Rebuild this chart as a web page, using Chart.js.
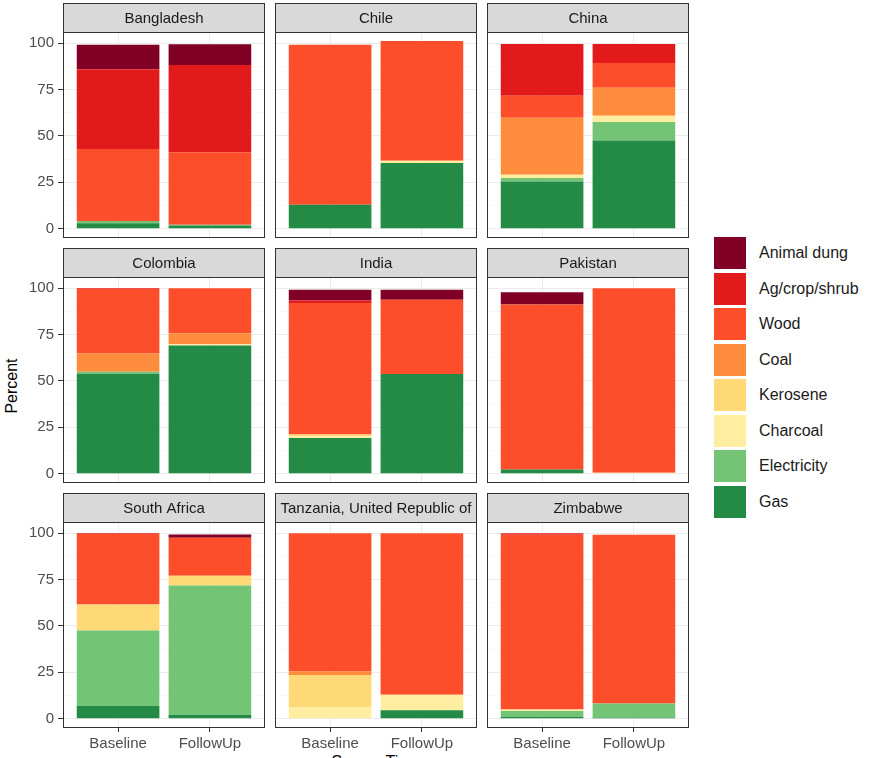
<!DOCTYPE html>
<html>
<head>
<meta charset="utf-8">
<script src="https://cdn.jsdelivr.net/npm/chart.js@4"></script>
<style>
  body { margin: 0; background: #fff; font-family: "Liberation Sans", Arial, sans-serif; }
  #wrap { position: relative; width: 874px; height: 758px; overflow: hidden; }
  .panel { position: absolute; }
  .legend-item { position: absolute; left: 714px; height: 32px; display: flex; align-items: center; }
  .legend-key { width: 32px; height: 32px; margin-right: 13px; }
  .legend-item span { font-size: 16px; color: #1a1a1a; }
  #ytitle { position: absolute; left: 12px; top: 386px; transform: translate(-50%, -50%) rotate(-90deg); font-size: 16px; color: #000; white-space: nowrap; }
  #xtitle { position: absolute; left: 376px; top: 753px; transform: translateX(-50%); font-size: 16px; color: #000; white-space: nowrap; }
</style>
</head>
<body>
<div id="wrap">
  <div id="ytitle">Percent</div>
  <div id="xtitle">Survey Time</div>
</div>
<script>
/* ── Datos: un par [Baseline, FollowUp] por país ── */
const countries  = ['Bangladesh', 'Chile', 'China', 'Colombia', 'India', 'Pakistan',
                    'South Africa', 'Tanzania, United Republic of', 'Zimbabwe'];
const timepoints = ['Baseline', 'FollowUp'];
const yTicks     = [0, 25, 50, 75, 100];

// orden de apilado: de abajo hacia arriba
const fuels      = ['Gas', 'Electricity', 'Charcoal', 'Kerosene', 'Coal', 'Wood', 'Ag/crop/shrub', 'Animal dung'];
const fuelColors = ['#238b45', '#74c476', '#ffeda0', '#fed976', '#fd8d3c', '#fc4e2a', '#e31a1c', '#800026'];

const gas         = [[2.9, 1.8], [12.9, 35.4], [25.5, 47.5], [53.9, 69.1], [19.3, 53.7], [2.3, 0], [6.8, 2.1], [0, 4.6], [1.1, 0.7]];
const electricity = [[1.2, 0.3], [0, 0], [1.8, 10], [1.1, 0], [0, 0], [0, 0], [40.7, 69.7], [0, 0], [3, 7.5]];
const charcoal    = [[0, 0], [0, 1.2], [1.8, 3.4], [0, 0.7], [0.8, 0], [0, 0.5], [0, 0], [6.1, 8.3], [0.9, 0]];
const kerosene    = [[0, 0], [0, 0], [0, 0], [0, 0], [1.0, 0], [0, 0], [14.1, 5.2], [17.5, 0], [0, 0]];
const coal        = [[0, 0], [0, 0], [30.7, 15], [9.8, 5.9], [0, 0], [0, 0], [0, 0], [1.9, 0], [0, 0]];
const wood        = [[38.9, 39.1], [86.2, 64.6], [11.8, 13.4], [34.8, 24.3], [70.9, 40], [88.9, 99.5], [38, 20.5], [74.5, 87.1], [94.1, 90.9]];
const agCrop      = [[42.9, 47], [0, 0], [28, 10.3], [0.4, 0], [1.4, 0], [0, 0], [0.4, 0], [0, 0], [0.9, 0]];
const animalDung  = [[13.2, 11.2], [0, 0], [0, 0], [0, 0], [5.7, 5.4], [6.6, 0], [0, 1.8], [0, 0], [0, 0]];

const fuelValues = [gas, electricity, charcoal, kerosene, coal, wood, agCrop, animalDung];

/* ── Geometría de facetas ── */
const colLeft  = [63, 275, 487];
const stripTop = [3, 248, 493];
const PANEL_W = 202, PANEL_H = 206, STRIP_H = 29;
const FONT = '"Liberation Sans", Arial, sans-serif';

Chart.defaults.font.family = FONT;

const yGrid = [];
yTicks.forEach((v, i) => {
  yGrid.push(v);
  if (i < yTicks.length - 1) yGrid.push((v + yTicks[i + 1]) / 2);
});
const isMajor = c => c.tick && yTicks.includes(c.tick.value);

/* ── Plugin: borde del panel y tira gris con el título ── */
const stripPlugin = {
  id: 'strip',
  afterDraw(chart, args, opts) {
    const { ctx, chartArea: a } = chart;
    const w = a.right - a.left;
    const y0 = a.top - STRIP_H;
    ctx.save();
    ctx.strokeStyle = '#333';
    ctx.lineWidth = 1;
    ctx.strokeRect(a.left + 0.5, a.top + 0.5, w - 1, a.bottom - a.top - 1);
    ctx.fillStyle = '#d9d9d9';
    ctx.fillRect(a.left, y0, w, STRIP_H);
    ctx.strokeRect(a.left + 0.5, y0 + 0.5, w - 1, STRIP_H);
    ctx.beginPath();
    ctx.rect(a.left + 1, y0, w - 2, STRIP_H);
    ctx.clip();
    ctx.fillStyle = '#1a1a1a';
    ctx.font = '15px ' + FONT;
    ctx.textAlign = 'center';
    ctx.textBaseline = 'middle';
    ctx.fillText(opts.text, a.left + w / 2, y0 + STRIP_H / 2 + 1);
    ctx.restore();
  }
};

/* ── Una gráfica por país ── */
const wrap = document.getElementById('wrap');

countries.forEach((name, ci) => {
  const row = Math.floor(ci / 3), col = ci % 3;
  const axisW = col === 0 ? 63 : 0;
  const bottomH = row === 2 ? 30 : 0;
  const padBottom = row === 2 ? 0 : 4;

  const div = document.createElement('div');
  div.className = 'panel';
  div.style.left = (colLeft[col] - axisW) + 'px';
  div.style.top = stripTop[row] + 'px';
  const canvas = document.createElement('canvas');
  canvas.width = axisW + PANEL_W + 1;
  canvas.height = STRIP_H + PANEL_H + bottomH + padBottom;
  div.appendChild(canvas);
  wrap.appendChild(div);

  const datasets = fuels.map((f, fi) => ({
    label: f,
    data: timepoints.map((t, ti) => ({ x: ti + 1, y: fuelValues[fi][ci][ti] || null })),
    backgroundColor: fuelColors[fi],
    borderWidth: 0,
    barPercentage: 0.9,
    categoryPercentage: 1.0,
  }));

  new Chart(canvas.getContext('2d'), {
    type: 'bar',
    data: { datasets },
    options: {
      responsive: false,
      animation: false,
      layout: {
        autoPadding: false,
        padding: { top: STRIP_H, right: 1, bottom: padBottom, left: 0 },
      },
      plugins: {
        legend: { display: false },
        tooltip: { enabled: false },
        strip: { text: name },
      },
      scales: {
        x: {
          type: 'linear', stacked: true, offset: false, min: 0.4, max: 2.6,
          afterBuildTicks: s => { s.ticks = timepoints.map((_, i) => ({ value: i + 1 })); },
          afterFit: s => { s.height = bottomH; s.paddingLeft = 0; s.paddingRight = 0; },
          border: { display: false },
          grid: { offset: false, color: '#ebebeb', drawTicks: row === 2, tickLength: 4, tickColor: '#333', tickWidth: 1 },
          ticks: {
            display: row === 2, autoSkip: false, maxRotation: 0, padding: 3,
            color: '#4d4d4d', font: { size: 15 },
            callback: v => timepoints[v - 1],
          },
        },
        y: {
          stacked: true, min: -5, max: 106,
          afterBuildTicks: s => { s.ticks = yGrid.map(v => ({ value: v })); },
          afterFit: s => { s.width = axisW; s.paddingTop = 0; s.paddingBottom = 0; },
          border: { display: false },
          grid: {
            color: c => isMajor(c) ? '#ebebeb' : '#f5f5f5',
            lineWidth: c => isMajor(c) ? 1 : 0.6,
            tickColor: c => isMajor(c) ? '#333' : 'rgba(0,0,0,0)',
            tickWidth: 1,
            tickLength: 5,
            drawTicks: col === 0,
          },
          ticks: {
            display: col === 0, autoSkip: false, padding: 4,
            color: '#4d4d4d', font: { size: 15 },
            callback: v => yTicks.includes(v) ? v : '',
          },
        },
      },
    },
    plugins: [stripPlugin],
  });
});

/* ── Leyenda (de arriba hacia abajo) ── */
fuels.slice().reverse().forEach((f, i) => {
  const item = document.createElement('div');
  item.className = 'legend-item';
  item.style.top = (237 + i * 35.5) + 'px';
  const key = document.createElement('div');
  key.className = 'legend-key';
  key.style.background = fuelColors[fuels.indexOf(f)];
  const label = document.createElement('span');
  label.textContent = f;
  item.appendChild(key);
  item.appendChild(label);
  wrap.appendChild(item);
});
</script>
</body>
</html>
